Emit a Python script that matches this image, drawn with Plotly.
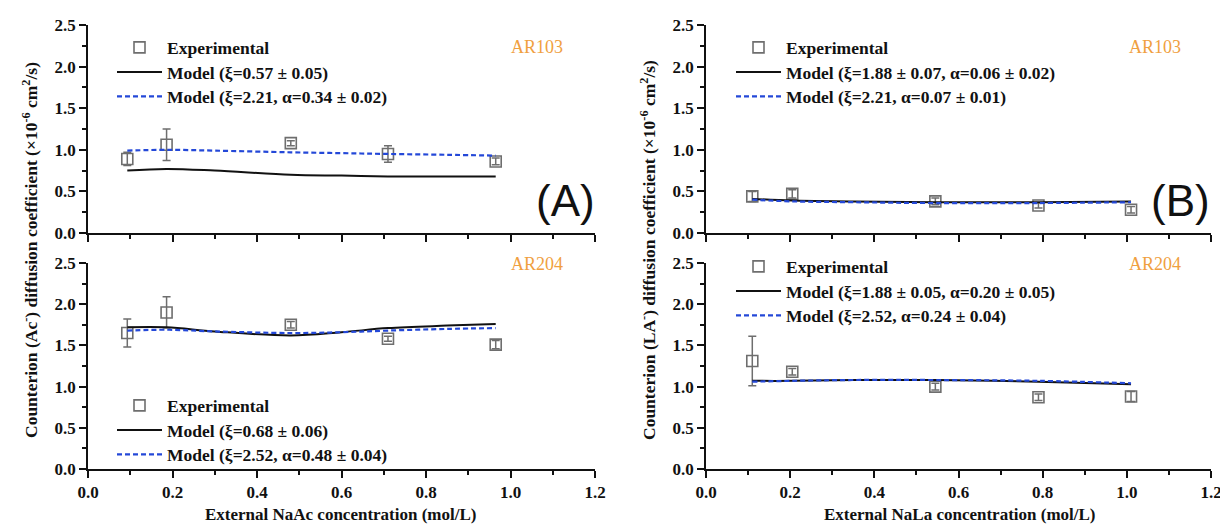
import plotly.graph_objects as go

# ---------------- Data ----------------
# Panel A : external NaAc concentration
xA = [0.093, 0.186, 0.48, 0.71, 0.965]
xA_model = [0.093, 0.186, 0.30, 0.48, 0.60, 0.71, 0.85, 0.965]
a103_exp = [0.89, 1.06, 1.08, 0.95, 0.86]
a103_err = [0.08, 0.19, 0.03, 0.10, 0.04]
a103_m1 = [0.75, 0.77, 0.75, 0.70, 0.69, 0.68, 0.68, 0.68]
a103_m2 = [0.99, 1.00, 0.99, 0.97, 0.96, 0.95, 0.94, 0.93]
a204_exp = [1.65, 1.90, 1.75, 1.58, 1.51]
a204_err = [0.17, 0.19, 0.04, 0.03, 0.05]
a204_m1 = [1.72, 1.72, 1.67, 1.62, 1.66, 1.71, 1.74, 1.76]
a204_m2 = [1.68, 1.69, 1.67, 1.65, 1.66, 1.68, 1.70, 1.71]

# Panel B : external NaLa concentration
xB = [0.11, 0.205, 0.545, 0.79, 1.01]
xB_model = [0.11, 0.205, 0.35, 0.545, 0.79, 1.01]
b103_exp = [0.44, 0.47, 0.38, 0.33, 0.28]
b103_err = [0.06, 0.05, 0.04, 0.03, 0.04]
b103_m1 = [0.41, 0.39, 0.38, 0.37, 0.37, 0.38]
b103_m2 = [0.40, 0.38, 0.37, 0.36, 0.36, 0.37]
b204_exp = [1.31, 1.18, 1.00, 0.87, 0.88]
b204_err = [0.30, 0.04, 0.04, 0.04, 0.06]
b204_m1 = [1.07, 1.07, 1.08, 1.08, 1.06, 1.03]
b204_m2 = [1.06, 1.07, 1.08, 1.08, 1.07, 1.04]

leg_A103 = ["Experimental", "Model (ξ=0.57 ± 0.05)", "Model (ξ=2.21, α=0.34 ± 0.02)"]
leg_A204 = ["Experimental", "Model (ξ=0.68 ± 0.06)", "Model (ξ=2.52, α=0.48 ± 0.04)"]
leg_B103 = ["Experimental", "Model (ξ=1.88 ± 0.07, α=0.06 ± 0.02)", "Model (ξ=2.21, α=0.07 ± 0.01)"]
leg_B204 = ["Experimental", "Model (ξ=1.88 ± 0.05, α=0.20 ± 0.05)", "Model (ξ=2.52, α=0.24 ± 0.04)"]

# ---------------- Styles ----------------
SERIF = "Liberation Serif, Times New Roman, serif"
GRAY = "#6e6e6e"
BLUE = "#2448d8"
ORANGE = "#f0a040"

# page is drawn inside the browser body (8px default margin)
OFF = 8
W, H = 1220, 516

def fx(px):
    return (px - OFF) / W

def fy(py):
    return 1 - (py - OFF) / H

fig = go.Figure()

# legend row placement (page px): (left x, first row centre y)
legend_rows = [(112, 47), (112, 405), (731, 47), (731, 266)]
ROW = 24.5

panels = [
    ("x", "y", xA, xA_model, a103_exp, a103_err, a103_m1, a103_m2, leg_A103),
    ("x2", "y2", xA, xA_model, a204_exp, a204_err, a204_m1, a204_m2, leg_A204),
    ("x3", "y3", xB, xB_model, b103_exp, b103_err, b103_m1, b103_m2, leg_B103),
    ("x4", "y4", xB, xB_model, b204_exp, b204_err, b204_m1, b204_m2, leg_B204),
]

LEGFONT = dict(family=SERIF, size=17.5, color="#111111", weight="bold")
legends = {}

def legend_name(k):
    return "legend" if k == 0 else f"legend{k + 1}"

for i, (xa, ya, xx, xm, ex, er, m1, m2, names) in enumerate(panels):
    lx, ly = legend_rows[i]
    keys = []
    for r in range(3):
        k = i * 3 + r
        nm = legend_name(k)
        keys.append(nm)
        legends[nm] = dict(x=fx(lx), y=fy(ly + r * ROW - 17.5), xanchor="left", yanchor="top",
                           bgcolor="rgba(0,0,0,0)", borderwidth=0, itemwidth=45,
                           font=LEGFONT)
    fig.add_trace(go.Scatter(
        x=xx, y=ex, xaxis=xa, yaxis=ya, mode="markers", name=names[0],
        marker=dict(symbol="square-open", size=11, color=GRAY, line=dict(width=1.6, color=GRAY)),
        error_y=dict(type="data", array=er, visible=True, color=GRAY, thickness=1.5, width=4),
        legend=keys[0]))
    fig.add_trace(go.Scatter(
        x=xm, y=m1, xaxis=xa, yaxis=ya, mode="lines", name=names[1],
        line=dict(color="#111111", width=2, shape="spline", smoothing=1.0),
        legend=keys[1]))
    fig.add_trace(go.Scatter(
        x=xm, y=m2, xaxis=xa, yaxis=ya, mode="lines", name=names[2],
        line=dict(color=BLUE, width=2.2, dash="5px,3px", shape="spline", smoothing=1.0),
        legend=keys[2]))

# ---------------- Axes ----------------
TICKFONT = dict(family=SERIF, size=17, color="#111111", weight="bold")

def xaxis_cfg(domain, anchor, labels):
    return dict(domain=domain, anchor=anchor, range=[0, 1.2], dtick=0.2, tick0=0,
                showline=True, linecolor="#111111", linewidth=1.5, automargin=False,
                ticks="outside", ticklen=7, tickwidth=1.5, tickcolor="#111111",
                minor=dict(dtick=0.1, ticks="outside", ticklen=4, tickwidth=1.5, tickcolor="#111111"),
                showgrid=False, zeroline=False, showticklabels=labels, tickformat=".1f",
                ticklabeloverflow="allow", tickfont=TICKFONT)

def yaxis_cfg(domain, anchor):
    return dict(domain=domain, anchor=anchor, range=[0, 2.5], dtick=0.5, tick0=0,
                showline=True, linecolor="#111111", linewidth=1.5, automargin=False,
                ticks="outside", ticklen=7, tickwidth=1.5, tickcolor="#111111",
                minor=dict(dtick=0.25, ticks="outside", ticklen=4, tickwidth=1.5, tickcolor="#111111"),
                showgrid=False, zeroline=False, tickformat=".1f",
                ticklabeloverflow="allow", tickfont=TICKFONT)

xdomL = [fx(88), fx(595)]
xdomR = [fx(706), fx(1211)]
ydomT = [fy(233), fy(25)]
ydomB = [fy(469), fy(263)]

fig.update_layout(
    width=W, height=H, margin=dict(l=0, r=0, t=0, b=0, autoexpand=False),
    paper_bgcolor="white", plot_bgcolor="white", showlegend=True,
    xaxis=xaxis_cfg(xdomL, "y", False), yaxis=yaxis_cfg(ydomT, "x"),
    xaxis2=xaxis_cfg(xdomL, "y2", True), yaxis2=yaxis_cfg(ydomB, "x2"),
    xaxis3=xaxis_cfg(xdomR, "y3", False), yaxis3=yaxis_cfg(ydomT, "x3"),
    xaxis4=xaxis_cfg(xdomR, "y4", True), yaxis4=yaxis_cfg(ydomB, "x4"),
    **legends,
)

ann = []
def add_text(text, xpx, ypx, size, color="#111111", family=SERIF, bold=False, angle=0):
    ann.append(dict(text=text, x=fx(xpx), y=fy(ypx), xref="paper", yref="paper",
                    showarrow=False, textangle=angle, xanchor="center", yanchor="middle",
                    font=dict(family=family, size=size, color=color,
                              weight="bold" if bold else "normal")))

add_text("AR103", 537, 47, 18, ORANGE)
add_text("AR204", 537, 264, 18, ORANGE)
add_text("AR103", 1155, 47, 18, ORANGE)
add_text("AR204", 1155, 264, 18, ORANGE)
add_text("(A)", 565, 200, 44, family="Liberation Sans, Arial, sans-serif")
add_text("(B)", 1180, 200, 44, family="Liberation Sans, Arial, sans-serif")
add_text("External NaAc concentration (mol/L)", 340, 514, 17, bold=True)
add_text("External NaLa concentration (mol/L)", 960, 514, 17, bold=True)
add_text("Counterion (Ac<sup>-</sup>) diffusion coefficient (×10<sup>-6</sup> cm<sup>2</sup>/s)",
         30, 250, 17.5, bold=True, angle=-90)
add_text("Counterion (LA<sup>-</sup>) diffusion coefficient (×10<sup>-6</sup> cm<sup>2</sup>/s)",
         648, 250, 17.5, bold=True, angle=-90)
fig.update_layout(annotations=ann)

fig.write_html("out.html")
